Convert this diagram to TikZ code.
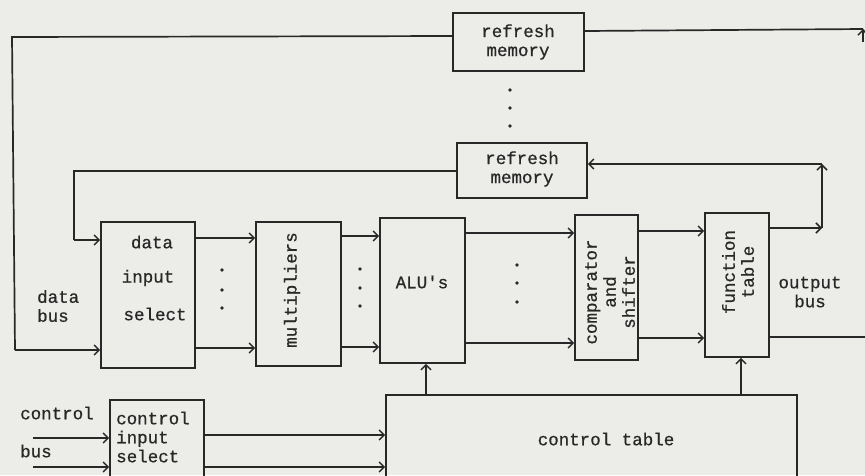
\documentclass[tikz,border=0pt]{standalone}
\usepackage{fontspec}
\setmainfont{Liberation Mono}
\newfontfamily\tw{Liberation Mono}[FakeBold=0.7]
\usetikzlibrary{arrows.meta}
\definecolor{paper}{RGB}{236,236,233}
\definecolor{ink}{RGB}{40,40,40}
\tikzset{
  box/.style={draw=ink, line width=1.7pt, inner sep=0pt, fill=none},
  lbl/.style={text=ink, font=\tw\fontsize{17.5}{19}\selectfont, inner sep=0pt, align=center},
  lbll/.style={text=ink, font=\tw\fontsize{17.5}{19}\selectfont, inner sep=0pt, align=left},
  wire/.style={draw=ink, line width=1.7pt},
  arr/.style={wire, -{Straight Barb[length=5pt,width=10pt,line width=1.5pt]}},
  dotm/.style={fill=ink, circle, inner sep=0pt, minimum size=3.8pt},
}
\begin{document}
\begin{tikzpicture}[x=1pt,y=-1pt]
\fill[paper] (0,0) rectangle (865,475);
\useasboundingbox (0,0) rectangle (865,475);
\clip (0,0) rectangle (865,475);

% boxes
\node[box, minimum width=131pt, minimum height=58pt] (rm1) at (518.5,42) {};
\node[box, minimum width=130pt, minimum height=55pt] (rm2) at (522,170.5) {};
\node[box, minimum width=94pt, minimum height=146pt] (dis) at (148,295) {};
\node[box, minimum width=85pt, minimum height=144pt] (mul) at (298.5,294) {};
\node[box, minimum width=85pt, minimum height=145pt] (alu) at (422.5,290.5) {};
\node[box, minimum width=63pt, minimum height=145pt] (cmp) at (606.5,287.5) {};
\node[box, minimum width=64pt, minimum height=144pt] (fun) at (737,285) {};
\node[box, minimum width=411pt, minimum height=105pt] (ct) at (591.5,447.5) {};
\node[box, minimum width=94pt, minimum height=100pt] (cis) at (157,450) {};

% labels
\node[lbl] (rm1t) at (518,42) {refresh\\memory};
\node[lbl] (rm2t) at (522,169) {refresh\\memory};
\node[lbl] (dist1) at (152,242) {data};
\node[lbl] (dist2) at (148,278) {input};
\node[lbl] (dist3) at (155,314) {select};
\node[lbll, anchor=west] (dbus) at (37,306) {data\\bus};
\node[lbl, rotate=90] (mult) at (292,290) {multipliers};
\node[lbl] (alut) at (422,282) {ALU\textquotesingle s};
\node[lbl, rotate=90] (cmpt) at (610,292) {comparator\\and\\shifter};
\node[lbl, rotate=90] (funt) at (738,272) {function\\table};
\node[lbl] (obus) at (810,292) {output\\bus};
\node[lbl] (ctt) at (606,439) {control table};
\node[lbll, anchor=west] (cist) at (116,437) {control\\input\\select};
\node[lbll, anchor=west] (cbus1) at (20,413) {control};
\node[lbll, anchor=west] (cbus2) at (20,451) {bus};

% dots
\node[dotm] (d1) at (510,90) {};
\node[dotm] (d2) at (510,108) {};
\node[dotm] (d3) at (510,126) {};
\node[dotm] (e1) at (222,270) {};
\node[dotm] (e2) at (222,290) {};
\node[dotm] (e3) at (222,308) {};
\node[dotm] (f1) at (360,269) {};
\node[dotm] (f2) at (360,288) {};
\node[dotm] (f3) at (360,306) {};
\node[dotm] (g1) at (517,265) {};
\node[dotm] (g2) at (517,283) {};
\node[dotm] (g3) at (517,302) {};

% coordinates
\coordinate (tl) at (12,37);
\coordinate (bl) at (15,350);
\coordinate (ml) at (74,171);
\coordinate (mlb) at (74,240);
\coordinate (tr) at (863,29);
\coordinate (trb) at (863,42);
\coordinate (lpb) at (822,228);
\coordinate (lpt) at (822,164);
\coordinate (oe) at (866,337);
\coordinate (cb1) at (33,438);
\coordinate (cb2) at (33,467);

% outer feedback
\draw[wire] (rm1.west |- 0,36) -- (tl) -- (bl);
\draw[arr] (bl) -- (dis.west |- 0,350);
\draw[wire] (rm1.east |- 0,31) -- (tr);
\draw[arr] (trb) -- (tr);
\draw[wire] (rm2.west |- 0,171) -- (ml) -- (mlb);
\draw[arr] (mlb) -- (dis.west |- 0,240);

% loop from function table
\draw[arr] (fun.east |- lpb) -- (lpb);
\draw[arr] (lpb) -- (lpt);
\draw[arr] (lpt) -- (rm2.east |- lpt);
\draw[wire] (fun.east |- oe) -- (oe);

% data path
\draw[arr] (dis.east |- 0,238) -- (mul.west |- 0,238);
\draw[arr] (dis.east |- 0,348) -- (mul.west |- 0,348);
\draw[arr] (mul.east |- 0,236) -- (alu.west |- 0,236);
\draw[arr] (mul.east |- 0,347) -- (alu.west |- 0,347);
\draw[arr] (alu.east |- 0,233) -- (cmp.west |- 0,233);
\draw[arr] (alu.east |- 0,343) -- (cmp.west |- 0,343);
\draw[arr] (cmp.east |- 0,231) -- (fun.west |- 0,231);
\draw[arr] (cmp.east |- 0,338) -- (fun.west |- 0,338);

% control
\draw[arr] (ct.north -| 426,0) -- (alu.south -| 426,0);
\draw[arr] (ct.north -| 741,0) -- (fun.south -| 741,0);
\draw[arr] (cis.east |- 0,435) -- (ct.west |- 0,435);
\draw[arr] (cis.east |- 0,467) -- (ct.west |- 0,467);
\draw[arr] (cb1) -- (cis.west |- cb1);
\draw[arr] (cb2) -- (cis.west |- cb2);
\end{tikzpicture}
\end{document}
